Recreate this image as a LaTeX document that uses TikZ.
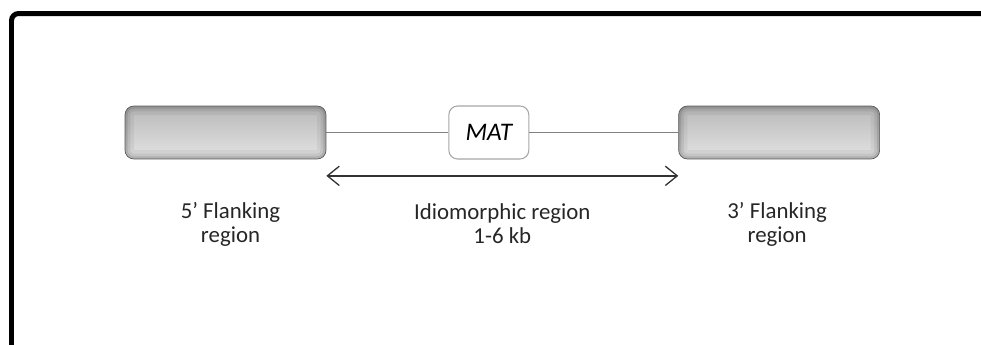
\documentclass[tikz,border=0pt]{standalone}
\usepackage{fontspec}
\setmainfont{Carlito}
\usepackage{tikz}
\usetikzlibrary{arrows.meta, positioning}

\begin{document}
\begin{tikzpicture}[
  x=0.02cm, y=-0.02cm,
  flank/.style={rounded corners=5pt, minimum width=4.02cm, minimum height=1.06cm,
                draw=gray!70!black, line width=0.4pt,
                top color=gray!55, bottom color=gray!22,
                path picture={
                  \foreach \w/\o in {10pt/0.05, 6pt/0.07, 3pt/0.1}
                    \draw[black, opacity=\o, line width=\w, rounded corners=5pt]
                      (path picture bounding box.south west) rectangle
                      (path picture bounding box.north east);}},
  matbox/.style={draw=gray!70, rounded corners=5pt, fill=white, line width=0.6pt,
                 minimum width=1.6cm, minimum height=1.06cm,
                 font=\fontsize{14.4}{16}\selectfont\itshape},
  lbl/.style={align=center, inner sep=0pt, text=black!85,
              font=\fontsize{13}{14}\selectfont},
  dblarr/.style={{Straight Barb[length=6.8pt,width=11pt]}-{Straight Barb[length=6.8pt,width=11pt]},
                 line width=0.75pt, black!80}
]
\useasboundingbox (0,0) rectangle (981,345);

% frame
\draw[line width=0.1cm, rounded corners=4pt] (11.5,345) |- (981,13.5);

% the locus
\node[flank] (flankL) at (225.5,132.5) {};
\node[matbox, right=2.44cm of flankL] (mat) {MAT};
\node[flank, right=2.98cm of mat] (flankR) {};

\draw[gray, line width=0.6pt] (flankL) -- (mat);
\draw[gray, line width=0.6pt] (mat) -- (flankR);

\draw[dblarr] ([yshift=-0.33cm]flankL.south east) --
  node[lbl, below=0.54cm] (idio) {Idiomorphic region\\1-6 kb}
  ([yshift=-0.33cm]flankR.south west);

\node[lbl, below=0.85cm of flankL, xshift=0.1cm] (lblL) {5’ Flanking\\region};
\node[lbl, below=0.85cm of flankR, xshift=-0.04cm] (lblR) {3’ Flanking\\region};

\end{tikzpicture}
\end{document}
